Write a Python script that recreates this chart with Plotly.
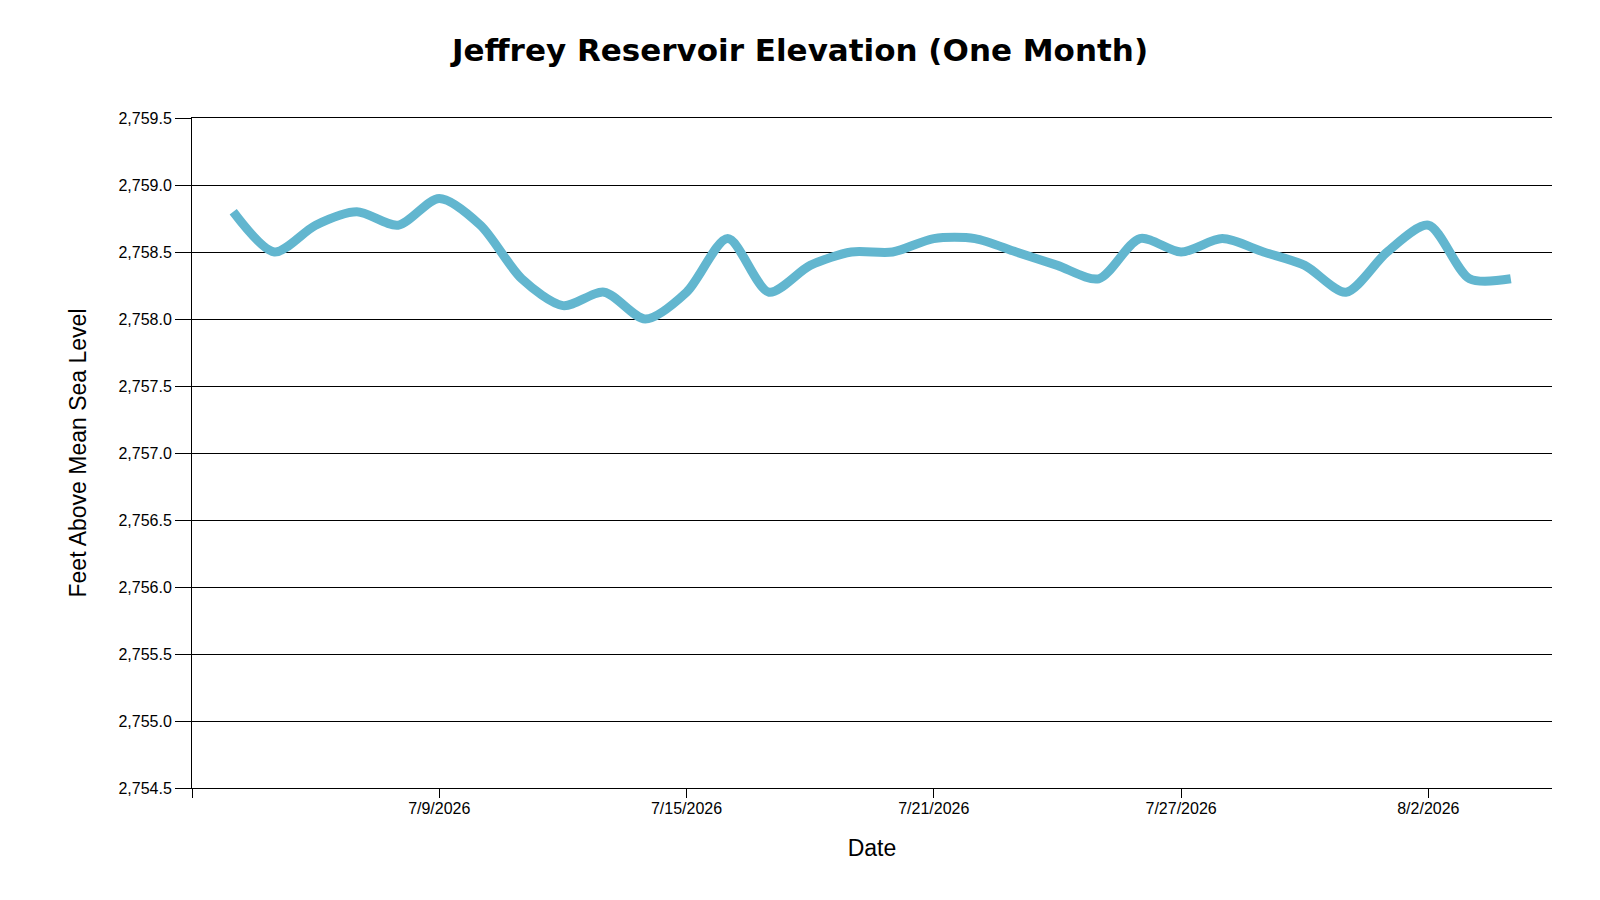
import plotly.graph_objects as go

# Datos: elevación diaria del embalse (pies sobre el nivel medio del mar)
dates = ["2026-07-04", "2026-07-05", "2026-07-06", "2026-07-07", "2026-07-08",
         "2026-07-09", "2026-07-10", "2026-07-11", "2026-07-12", "2026-07-13",
         "2026-07-14", "2026-07-15", "2026-07-16", "2026-07-17", "2026-07-18",
         "2026-07-19", "2026-07-20", "2026-07-21", "2026-07-22", "2026-07-23",
         "2026-07-24", "2026-07-25", "2026-07-26", "2026-07-27", "2026-07-28",
         "2026-07-29", "2026-07-30", "2026-07-31", "2026-08-01", "2026-08-02",
         "2026-08-03", "2026-08-04"]
elevation = [2758.8, 2758.5, 2758.7, 2758.8, 2758.7,
             2758.9, 2758.7, 2758.3, 2758.1, 2758.2,
             2758.0, 2758.2, 2758.6, 2758.2, 2758.4,
             2758.5, 2758.5, 2758.6, 2758.6, 2758.5,
             2758.4, 2758.3, 2758.6, 2758.5, 2758.6,
             2758.5, 2758.4, 2758.2, 2758.5, 2758.7,
             2758.3, 2758.3]

x_range = ["2026-07-03", "2026-08-05"]
x_tickvals = ["2026-07-03", "2026-07-09", "2026-07-15", "2026-07-21", "2026-07-27", "2026-08-02"]
x_ticktext = ["", "7/9/2026", "7/15/2026", "7/21/2026", "7/27/2026", "8/2/2026"]
y_range = [2754.5, 2759.5]

fig = go.Figure()
fig.add_trace(go.Scatter(
    x=dates,
    y=elevation,
    mode="lines",
    line=dict(color="#62B6CF", width=9, shape="spline", smoothing=0.8),
    showlegend=False,
))

fig.update_layout(
    width=1600,
    height=900,
    margin=dict(l=184, r=56, t=110, b=120),
    paper_bgcolor="white",
    plot_bgcolor="white",
    font=dict(family="Liberation Sans, Arial, sans-serif", color="black"),
    title=dict(
        text="<b>Jeffrey Reservoir Elevation (One Month)</b>",
        x=0.495, xanchor="center", y=0.953, yanchor="middle",
        font=dict(size=31, family="DejaVu Sans, sans-serif", color="black"),
    ),
)

fig.update_xaxes(
    range=x_range,
    tickvals=x_tickvals,
    ticktext=x_ticktext,
    ticks="outside", ticklen=9, tickcolor="black", tickwidth=1,
    ticklabelstandoff=-3,
    showline=True, linecolor="black", linewidth=1, mirror=True,
    showgrid=False, zeroline=False,
    tickfont=dict(size=16),
    title=dict(text="Date", font=dict(size=23), standoff=23),
)

fig.update_yaxes(
    range=y_range,
    dtick=0.5,
    tickformat=",.1f",
    ticks="outside", ticklen=16, tickcolor="black", tickwidth=1,
    showline=True, linecolor="black", linewidth=1,
    showgrid=True, gridcolor="black", gridwidth=1,
    zeroline=False,
    tickfont=dict(size=16),
    title=dict(text="Feet Above Mean Sea Level", font=dict(size=23), standoff=25),
)

fig.write_html("out.html")
